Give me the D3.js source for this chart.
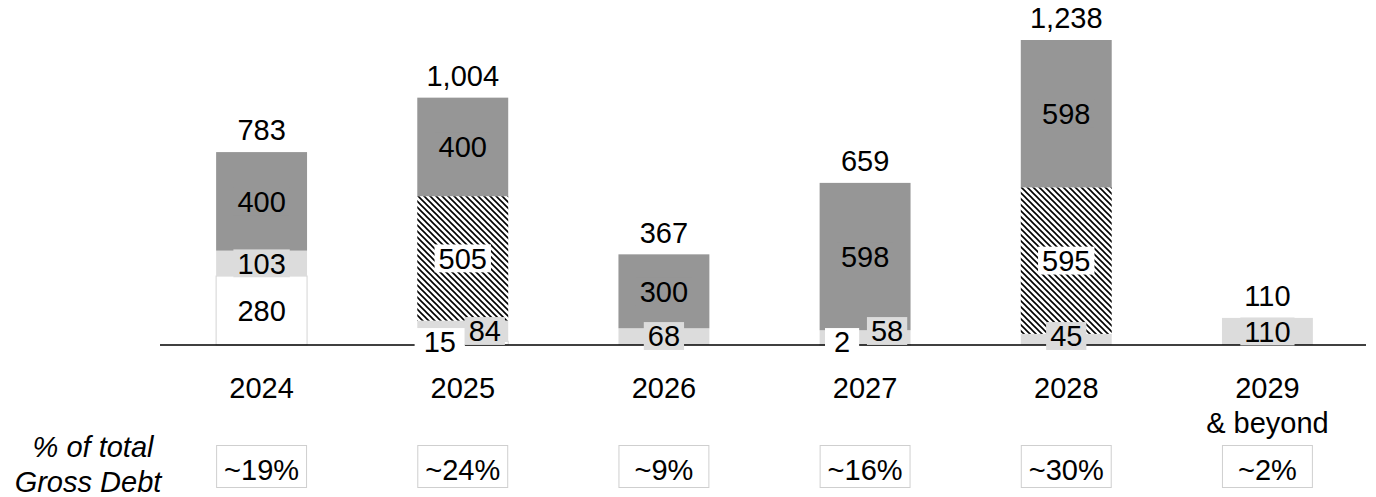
<!DOCTYPE html>
<html>
<head>
<meta charset="utf-8">
<script src="https://cdn.jsdelivr.net/npm/d3@7"></script>
<style>
  body { margin: 0; background: #fff; }
  svg text { font-family: "Liberation Sans", Arial, sans-serif; fill: #000; }
</style>
</head>
<body>
<div id="chart"></div>
<script>
// maturity profile, values
const years = ["2024", "2025", "2026", "2027", "2028", "2029"];
const yearSub = ["", "", "", "", "", "& beyond"];
const whiteVals = [280, 15, 0, 2, 0, 0];
const lightVals = [103, 84, 68, 58, 45, 110];
const hatchVals = [0, 505, 0, 0, 595, 0];
const darkVals = [400, 400, 300, 598, 598, 0];
const totals = [783, 1004, 367, 659, 1238, 110];
const pctLabels = ["~19%", "~24%", "~9%", "~16%", "~30%", "~2%"];

const width = 1376, height = 497;
const fs = 29;
const baseY = 345;

const svg = d3.select("#chart").append("svg")
    .attr("width", width)
    .attr("height", height);

const defs = svg.append("defs");
const pat = defs.append("pattern")
    .attr("id", "hatch")
    .attr("patternUnits", "userSpaceOnUse")
    .attr("width", 6)
    .attr("height", 6);
pat.append("rect").attr("width", 6).attr("height", 6).attr("fill", "#fff");
pat.append("path")
    .attr("d", "M0,0L6,6M-1,5L1,7M5,-1L7,1")
    .attr("stroke", "#000")
    .attr("stroke-width", 1.6);

const x = d3.scaleBand()
    .domain(years)
    .range([161, 1368])
    .paddingInner(0.548)
    .paddingOuter(0.274);

const y = d3.scaleLinear()
    .domain([0, d3.max(totals)])
    .range([baseY, 40]);

const segDefs = [
    { key: "white", vals: whiteVals, fill: "#ffffff", stroke: "#d4d4d4", labelBg: "#ffffff" },
    { key: "light", vals: lightVals, fill: "#dcdcdc", stroke: "none", labelBg: "#dcdcdc" },
    { key: "hatch", vals: hatchVals, fill: "url(#hatch)", stroke: "none", labelBg: "#ffffff" },
    { key: "dark", vals: darkVals, fill: "#969696", stroke: "none", labelBg: "#969696" }
];

// stack segments bottom-up
const segs = [];
years.forEach(function(yr, i) {
    let acc = 0;
    segDefs.forEach(function(s) {
        const v = s.vals[i];
        if (v > 0) {
            segs.push({ year: yr, i: i, key: s.key, v: v, y0: acc, y1: acc + v, def: s });
        }
        acc += v;
    });
});

const bars = svg.append("g").attr("class", "bars");
bars.selectAll("rect")
    .data(segs)
    .enter().append("rect")
    .attr("x", function(d) { return x(d.year); })
    .attr("y", function(d) { return y(d.y1); })
    .attr("width", x.bandwidth())
    .attr("height", function(d) { return y(d.y0) - y(d.y1); })
    .attr("fill", function(d) { return d.def.fill; })
    .attr("stroke", function(d) { return d.def.stroke; })
    .attr("stroke-width", 1);

// baseline
svg.append("line")
    .attr("x1", 160).attr("x2", 1366)
    .attr("y1", baseY).attr("y2", baseY)
    .attr("stroke", "#000")
    .attr("stroke-width", 1.5);

// segment labels with background boxes
function labelPos(d) {
    const cx = x(d.year) + x.bandwidth() / 2;
    const hSeg = y(d.y0) - y(d.y1);
    const pairSmall = whiteVals[d.i] > 0 && (y(0) - y(whiteVals[d.i] + lightVals[d.i])) < 30;
    if (pairSmall && d.key === "white") return { x: cx - 23, y: baseY - 3, pad: 9 };
    if (pairSmall && d.key === "light") return { x: cx + 22, y: baseY - 14, pad: 4 };
    let cy = (y(d.y0) + y(d.y1)) / 2;
    if (hSeg < 30) cy = Math.min(cy, baseY - 9);
    return { x: cx, y: cy, pad: 4 };
}

const labels = svg.append("g").attr("class", "seg-labels");
const lg = labels.selectAll("g")
    .data(segs)
    .enter().append("g")
    .attr("transform", function(d) {
        const p = labelPos(d);
        return "translate(" + p.x + "," + p.y + ")";
    });

lg.append("text")
    .attr("text-anchor", "middle")
    .attr("y", fs * 0.36)
    .style("font-size", fs + "px")
    .text(function(d) { return d3.format(",")(d.v); });

lg.each(function(d) {
    const g = d3.select(this);
    const w = g.select("text").node().getComputedTextLength();
    const pad = labelPos(d).pad;
    const bh = fs * 0.72 + 7;
    g.insert("rect", "text")
        .attr("x", -w / 2 - pad)
        .attr("y", -bh / 2)
        .attr("width", w + pad * 2)
        .attr("height", bh)
        .attr("fill", d.def.labelBg);
});

// totals above bars
svg.append("g").selectAll("text")
    .data(totals)
    .enter().append("text")
    .attr("x", function(d, i) { return x(years[i]) + x.bandwidth() / 2; })
    .attr("y", function(d) { return y(d) - 12; })
    .attr("text-anchor", "middle")
    .style("font-size", fs + "px")
    .text(function(d) { return d3.format(",")(d); });

// category axis (no line, just labels)
const xAxis = d3.axisBottom(x).tickSize(0).tickPadding(0);
const axisG = svg.append("g")
    .attr("transform", "translate(0,376)")
    .call(xAxis);
axisG.select(".domain").remove();
axisG.selectAll(".tick text")
    .attr("dy", 0)
    .attr("y", 22)
    .style("font-size", fs + "px")
    .style("font-family", "'Liberation Sans', Arial, sans-serif")
    .attr("fill", "#000");
axisG.selectAll(".tick")
    .append("text")
    .attr("y", 57)
    .attr("text-anchor", "middle")
    .style("font-size", fs + "px")
    .attr("fill", "#000")
    .text(function(d, i) { return yearSub[i]; });

// % of total gross debt row
const pg = svg.append("g").selectAll("g")
    .data(pctLabels)
    .enter().append("g")
    .attr("transform", function(d, i) { return "translate(" + x(years[i]) + ",445)"; });
pg.append("rect")
    .attr("x", 0.5)
    .attr("y", 0.5)
    .attr("width", x.bandwidth() - 1)
    .attr("height", 42)
    .attr("fill", "#fff")
    .attr("stroke", "#cfcfcf");
pg.append("text")
    .attr("x", x.bandwidth() / 2)
    .attr("y", 35)
    .attr("text-anchor", "middle")
    .style("font-size", fs + "px")
    .text(function(d) { return d; });

const side = svg.append("text")
    .attr("text-anchor", "middle")
    .style("font-size", fs + "px")
    .style("font-style", "italic");
side.append("tspan").attr("x", 93).attr("y", 457).text("% of total");
side.append("tspan").attr("x", 88).attr("y", 492).text("Gross Debt");
</script>
</body>
</html>
